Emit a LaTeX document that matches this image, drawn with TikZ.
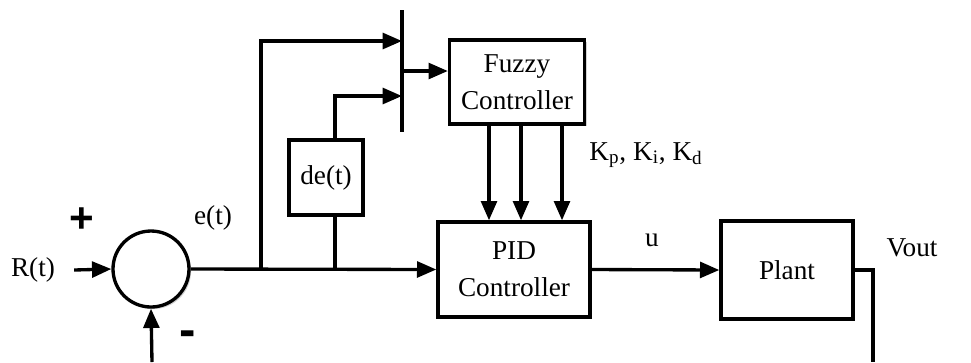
\documentclass[tikz,border=0pt]{standalone}
\usepackage{fontspec}
\setmainfont{Liberation Serif}
\newfontfamily\signfont{Liberation Sans}
\usetikzlibrary{arrows.meta,shadows}

\tikzset{
  block/.style={draw, line width=1.9pt, fill=white, align=center,
    drop shadow={opacity=0.35, shadow xshift=1.2pt, shadow yshift=-1.2pt}},
  arr/.style={-{Triangle[length=11pt,width=9pt]}},
  lbl/.style={inner sep=1pt}
}

\begin{document}
\begin{tikzpicture}[x=0.2mm, y=-0.2mm, line width=1.9pt,
    font=\fontsize{15.5}{21}\selectfont]
    \useasboundingbox (0,0) rectangle (971,362);

    % blocks
    \node[block, circle, minimum size=1.52cm, inner sep=0pt] (sum) at (151,269) {};
    \node[block, minimum width=2.7cm, minimum height=1.68cm] (fuzzy) at (517,82) {Fuzzy\\Controller};
    \node[block, minimum width=3.04cm, minimum height=1.9cm] (pid) at (514,269.5) {PID\\Controller};
    \node[block, minimum width=2.64cm, minimum height=1.96cm] (plant) at (787,270) {Plant};
    \node[block, minimum width=1.48cm, minimum height=1.5cm] (de) at (326,177.5) {de(t)};

    % labels
    \node[lbl] (rin) at (33,270) {R(t)};
    \node[lbl] (plus) at (82,220) {\signfont\bfseries\fontsize{24}{24}\selectfont +};
    \node[lbl] (minus) at (188,339) {\signfont\bfseries\fontsize{28}{28}\selectfont -};
    \node[lbl] (err) at (213,218) {e(t)};
    \node[lbl] (gains) at (646,155) {K\textsubscript{p}, K\textsubscript{i}, K\textsubscript{d}};
    \node[lbl] (ulbl) at (652,240) {u};
    \node[lbl] (vout) at (912,248) {Vout};

    % mux bar and helper points
    \coordinate (bartop) at (402,10);
    \coordinate (barbot) at (402,132);
    \coordinate (bar1) at (402,41);
    \coordinate (bar2) at (402,96);
    \coordinate (bar3) at (402,71);
    \coordinate (br1) at (261,269);
    \coordinate (br2) at (335,269);
    \coordinate (fbr) at (873,270);
    \coordinate (fbout) at (873,362);
    \coordinate (fbin) at (152,362);

    \draw (bartop) -- (barbot);

    % connectors
    \draw[arr] ([xshift=9pt]rin.east) -- (sum.west);
    \draw[arr] (sum.east) -- (pid.west);
    \draw[arr] (br1) |- (bar1);
    \draw (br2) -- (br2 |- de.south);
    \draw[arr] (br2 |- de.north) |- (bar2);
    \draw[arr] (bar3) -- (bar3 -| fuzzy.west);
    \foreach \xk in {489,521,562}
        \draw[arr] (fuzzy.south -| \xk,0) -- (pid.north -| \xk,0);
    \draw[arr] (pid.east) -- (plant.west);
    \draw (plant.east) -- (fbr) -- (fbout);
    \draw[arr] (fbin) -- (sum.south);
\end{tikzpicture}
\end{document}
